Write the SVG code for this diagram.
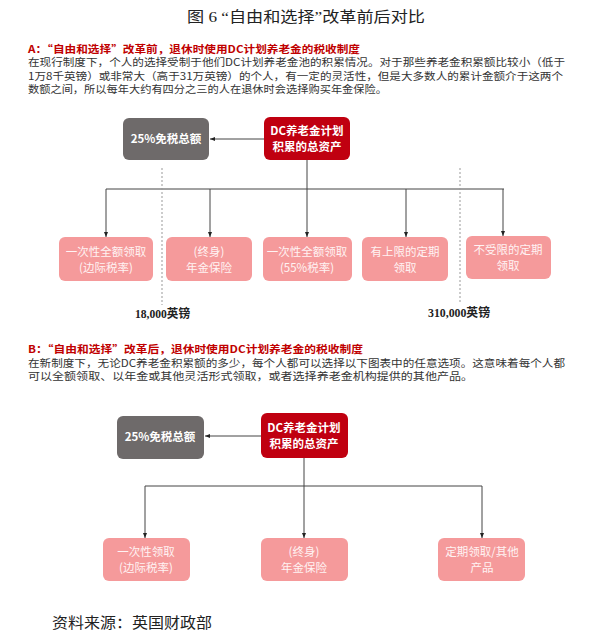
<svg xmlns="http://www.w3.org/2000/svg" width="599" height="636" viewBox="0 0 599 636">
<style>
.title{font-family:"Liberation Serif","Noto Sans CJK SC",serif;font-size:15px;fill:#222;}
.head{font-family:"Noto Sans CJK SC","Liberation Sans",sans-serif;font-size:10.5px;font-weight:bold;fill:#c00000;}
.para{font-family:"Noto Sans CJK SC","Liberation Sans",sans-serif;font-size:10.5px;fill:#333;}
.gray{fill:#6e6a6a;}
.red{fill:#c00010;}
.pink{fill:#f59a9b;}
.bt{font-family:"Noto Sans CJK SC","Liberation Sans",sans-serif;font-size:11.5px;font-weight:bold;fill:#ffffff;text-anchor:middle;}
.pt{font-family:"Noto Sans CJK SC","Liberation Sans",sans-serif;font-size:11.5px;fill:#fff3f3;text-anchor:middle;}
.conn{stroke:#444;stroke-width:1;fill:none;}
.dot{stroke:#999;stroke-width:1;stroke-dasharray:2,2;fill:none;}
.amt{font-family:"Liberation Serif","Noto Sans CJK SC",serif;font-size:12px;font-weight:bold;fill:#222;}
.src{font-family:"Liberation Serif","Noto Sans CJK SC",serif;font-size:15px;fill:#222;}
</style>
<defs>
<marker id="ah" markerWidth="5" markerHeight="4" refX="5" refY="2" orient="auto" markerUnits="userSpaceOnUse">
<path d="M0,0 L5,2 L0,4 z" fill="#222"/>
</marker>
</defs>
<rect width="599" height="636" fill="#ffffff"/>

<text class="title" x="187" y="22" textLength="238" lengthAdjust="spacingAndGlyphs">图 6 “自由和选择”改革前后对比</text>

<g id="sectionA-text">
<text class="head" x="28" y="52.5" textLength="332" lengthAdjust="spacingAndGlyphs">A：“自由和选择”改革前，退休时使用DC计划养老金的税收制度</text>
<text class="para" x="28" y="66" textLength="537" lengthAdjust="spacingAndGlyphs">在现行制度下，个人的选择受制于他们DC计划养老金池的积累情况。对于那些养老金积累额比较小（低于</text>
<text class="para" x="28" y="79.5" textLength="535" lengthAdjust="spacingAndGlyphs">1万8千英镑）或非常大（高于31万英镑）的个人，有一定的灵活性，但是大多数人的累计金额介于这两个</text>
<text class="para" x="28" y="93" textLength="359" lengthAdjust="spacingAndGlyphs">数额之间，所以每年大约有四分之三的人在退休时会选择购买年金保险。</text>
</g>

<g id="connectorsA">
<line class="conn" x1="264" y1="139" x2="210" y2="139" marker-end="url(#ah)"/>
<line class="conn" x1="307" y1="160" x2="307" y2="189"/>
<line class="conn" x1="106" y1="189" x2="504" y2="189"/>
<line class="conn" x1="106" y1="189" x2="106" y2="237" marker-end="url(#ah)"/>
<line class="conn" x1="210" y1="189" x2="210" y2="237" marker-end="url(#ah)"/>
<line class="conn" x1="307" y1="189" x2="307" y2="237" marker-end="url(#ah)"/>
<line class="conn" x1="406" y1="189" x2="406" y2="237" marker-end="url(#ah)"/>
<line class="conn" x1="503" y1="189" x2="503" y2="236" marker-end="url(#ah)"/>
<line class="dot" x1="162" y1="168" x2="162" y2="305"/>
<line class="dot" x1="460" y1="168" x2="460" y2="303"/>
</g>

<g id="A-gray">
<rect class="gray" x="123" y="118" width="86" height="42" rx="6"/>
<text class="bt" x="166" y="143">25%免税总额</text>
</g>
<g id="A-red">
<rect class="red" x="264" y="117" width="86" height="43" rx="6"/>
<text class="bt" x="307" y="135">DC养老金计划</text>
<text class="bt" x="307" y="151">积累的总资产</text>
</g>
<g id="A-1">
<rect class="pink" x="59" y="237" width="94" height="44" rx="6"/>
<text class="pt" x="106" y="256">一次性全额领取</text>
<text class="pt" x="106" y="272">(边际税率)</text>
</g>
<g id="A-2">
<rect class="pink" x="166" y="237" width="86" height="44" rx="6"/>
<text class="pt" x="209" y="256">(终身)</text>
<text class="pt" x="209" y="272">年金保险</text>
</g>
<g id="A-3">
<rect class="pink" x="263" y="237" width="89" height="44" rx="6"/>
<text class="pt" x="307" y="256">一次性全额领取</text>
<text class="pt" x="307" y="272">(55%税率)</text>
</g>
<g id="A-4">
<rect class="pink" x="362" y="237" width="86" height="44" rx="6"/>
<text class="pt" x="405" y="256">有上限的定期</text>
<text class="pt" x="405" y="272">领取</text>
</g>
<g id="A-5">
<rect class="pink" x="466" y="236" width="85" height="43" rx="6"/>
<text class="pt" x="508" y="254">不受限的定期</text>
<text class="pt" x="508" y="270">领取</text>
</g>
<text class="amt" x="135" y="318" textLength="55" lengthAdjust="spacingAndGlyphs">18,000英镑</text>
<text class="amt" x="428" y="317" textLength="62" lengthAdjust="spacingAndGlyphs">310,000英镑</text>

<g id="sectionB-text">
<text class="head" x="28" y="353" textLength="335" lengthAdjust="spacingAndGlyphs">B：“自由和选择”改革后，退休时使用DC计划养老金的税收制度</text>
<text class="para" x="28" y="366.5" textLength="537" lengthAdjust="spacingAndGlyphs">在新制度下，无论DC养老金积累额的多少，每个人都可以选择以下图表中的任意选项。这意味着每个人都</text>
<text class="para" x="28" y="380" textLength="445" lengthAdjust="spacingAndGlyphs">可以全额领取、以年金或其他灵活形式领取，或者选择养老金机构提供的其他产品。</text>
</g>

<g id="connectorsB">
<line class="conn" x1="261" y1="436" x2="205" y2="436" marker-end="url(#ah)"/>
<line class="conn" x1="304" y1="458" x2="304" y2="486"/>
<line class="conn" x1="145" y1="486" x2="482" y2="486"/>
<line class="conn" x1="145" y1="486" x2="145" y2="538" marker-end="url(#ah)"/>
<line class="conn" x1="304" y1="486" x2="304" y2="538" marker-end="url(#ah)"/>
<line class="conn" x1="482" y1="486" x2="482" y2="538" marker-end="url(#ah)"/>
</g>

<g id="B-gray">
<rect class="gray" x="117" y="416" width="87" height="43" rx="6"/>
<text class="bt" x="160" y="441">25%免税总额</text>
</g>
<g id="B-red">
<rect class="red" x="261" y="413" width="87" height="45" rx="6"/>
<text class="bt" x="304" y="432">DC养老金计划</text>
<text class="bt" x="304" y="448">积累的总资产</text>
</g>
<g id="B-1">
<rect class="pink" x="103" y="538" width="87" height="43" rx="6"/>
<text class="pt" x="146" y="556">一次性领取</text>
<text class="pt" x="146" y="572">(边际税率)</text>
</g>
<g id="B-2">
<rect class="pink" x="261" y="538" width="87" height="43" rx="6"/>
<text class="pt" x="304" y="556">(终身)</text>
<text class="pt" x="304" y="572">年金保险</text>
</g>
<g id="B-3">
<rect class="pink" x="438" y="538" width="87" height="43" rx="6"/>
<text class="pt" x="482" y="556">定期领取/其他</text>
<text class="pt" x="482" y="572">产品</text>
</g>

<text class="src" x="52" y="628" textLength="160" lengthAdjust="spacingAndGlyphs">资料来源：英国财政部</text>
</svg>
